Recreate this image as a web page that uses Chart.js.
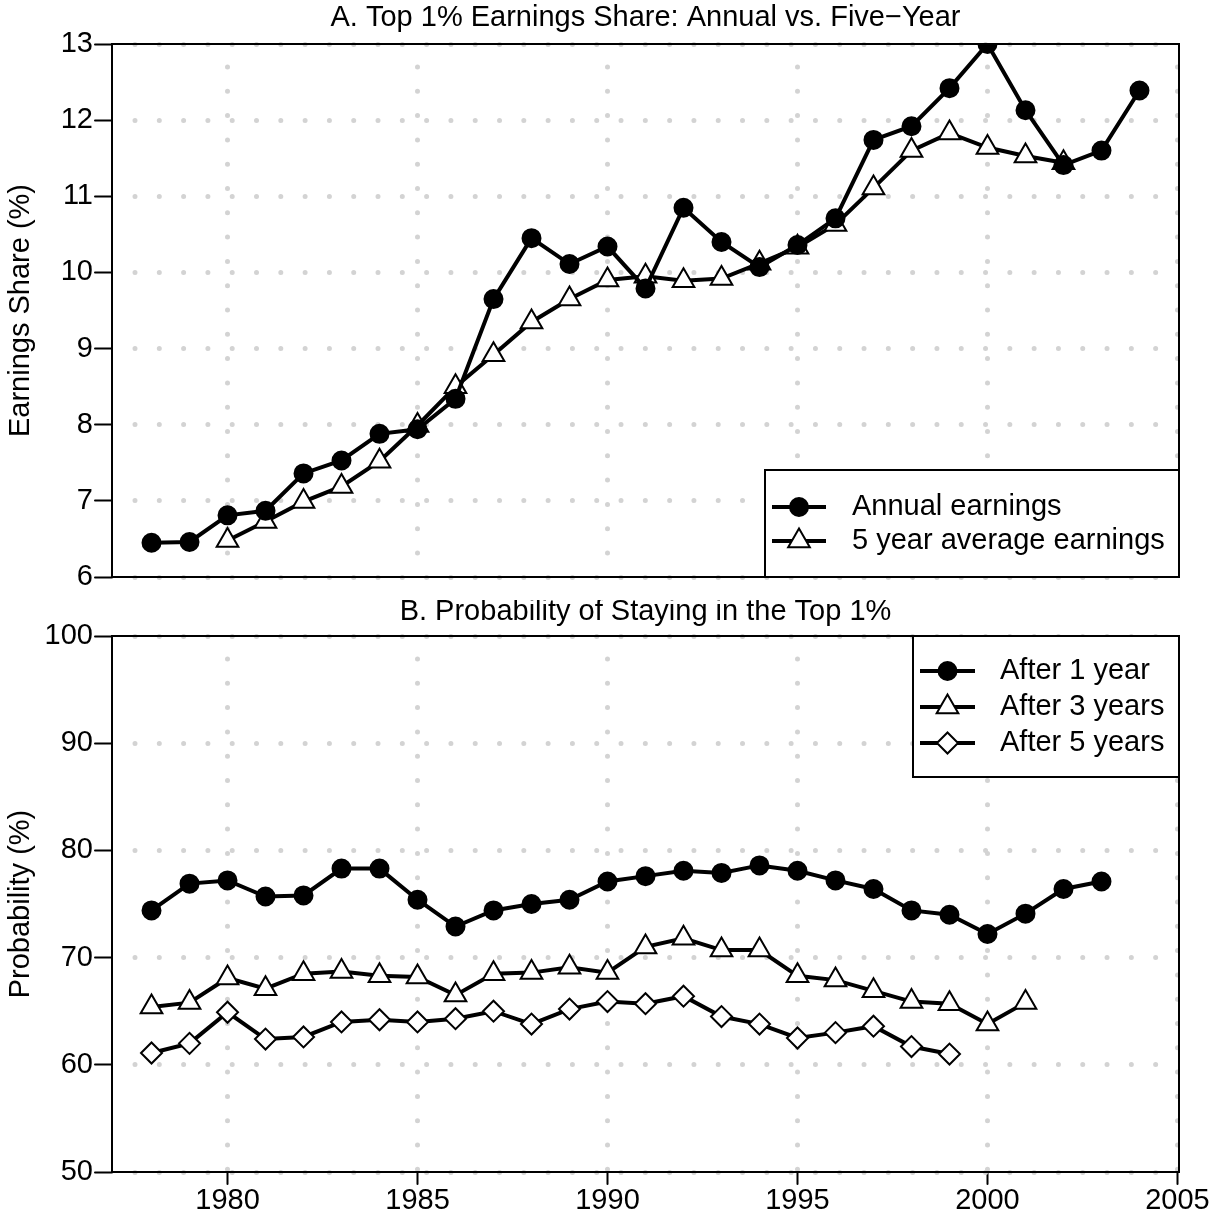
<!DOCTYPE html>
<html>
<head>
<meta charset="utf-8">
<script src="https://cdn.jsdelivr.net/npm/chart.js@4.4.1/dist/chart.umd.min.js"></script>
<style>
html, body { margin: 0; padding: 0; background: #fff; }
#wrap { position: relative; width: 1222px; height: 1222px; }
canvas { position: absolute; left: 0; }
</style>
</head>
<body>
<div id="wrap">
<canvas id="topChart" width="1222" height="600" style="top:0;width:1222px;height:600px"></canvas>
<canvas id="botChart" width="1222" height="622" style="top:600px;width:1222px;height:622px"></canvas>
</div>
<script>
// panel A: top 1% earnings share
var shareYears = [1978, 1979, 1980, 1981, 1982, 1983, 1984, 1985, 1986, 1987, 1988, 1989, 1990, 1991,
                  1992, 1993, 1994, 1995, 1996, 1997, 1998, 1999, 2000, 2001, 2002, 2003, 2004];
var annualShare = [6.45, 6.46, 6.81, 6.87, 7.36, 7.53, 7.88, 7.94, 8.34, 9.65, 10.45, 10.11, 10.34, 9.79,
                   10.85, 10.40, 10.07, 10.36, 10.71, 11.74, 11.92, 12.42, 13.00, 12.13, 11.41, 11.60, 12.39];
var avgYears = [1980, 1981, 1982, 1983, 1984, 1985, 1986, 1987, 1988, 1989, 1990, 1991,
                1992, 1993, 1994, 1995, 1996, 1997, 1998, 1999, 2000, 2001, 2002];
var avgShare = [6.48, 6.73, 6.99, 7.19, 7.52, 7.99, 8.50, 8.92, 9.35, 9.65, 9.90, 9.95,
                9.89, 9.92, 10.12, 10.33, 10.63, 11.11, 11.60, 11.83, 11.64, 11.53, 11.44];
var shareTicks = [6, 7, 8, 9, 10, 11, 12, 13];

// panel B: probability of staying in the top 1%
var stayYears = [1978, 1979, 1980, 1981, 1982, 1983, 1984, 1985, 1986, 1987, 1988, 1989, 1990,
                 1991, 1992, 1993, 1994, 1995, 1996, 1997, 1998, 1999, 2000, 2001, 2002, 2003];
var after1 = [74.4, 76.9, 77.2, 75.7, 75.8, 78.3, 78.3, 75.4, 72.9, 74.4, 75.0, 75.4, 77.1,
              77.6, 78.1, 77.9, 78.6, 78.1, 77.2, 76.4, 74.4, 74.0, 72.2, 74.1, 76.4, 77.1];
var after3 = [65.4, 65.8, 68.1, 67.1, 68.5, 68.7, 68.3, 68.2, 66.5, 68.5, 68.6, 69.1, 68.6,
              71.0, 71.8, 70.7, 70.7, 68.3, 67.9, 66.9, 65.9, 65.7, 63.8, 65.8];
var after5 = [61.1, 62.0, 64.9, 62.4, 62.6, 64.0, 64.2, 64.0, 64.3, 65.0, 63.8, 65.2, 65.9,
              65.7, 66.4, 64.5, 63.8, 62.5, 63.0, 63.6, 61.7, 61.0];
var probTicks = [50, 60, 70, 80, 90, 100];

var yearTicks = [1980, 1985, 1990, 1995, 2000, 2005];

var FONT = '"Liberation Sans", Arial, Helvetica, sans-serif';
var FS = 29;
Chart.defaults.font.family = FONT;
Chart.defaults.font.size = FS;
Chart.defaults.color = '#000';

var AREA_LEFT = 112;
var DOT = [0.001, 24.3];
var R = { circle: 9, triangle: 12.5, rectRot: 10.5 };

function toPoints(xs, ys) {
    return ys.map(function (v, i) { return { x: xs[i], y: v }; });
}

function series(label, xs, ys, style, fill) {
    return {
        label: label,
        data: toPoints(xs, ys),
        borderColor: '#000',
        borderWidth: 4,
        pointStyle: style,
        pointRadius: R[style],
        pointHoverRadius: R[style],
        pointBackgroundColor: fill,
        pointBorderColor: '#000',
        pointBorderWidth: 2,
        tension: 0,
        clip: 0
    };
}

function marker(ctx, style, fill, x, y) {
    var r = R[style];
    ctx.beginPath();
    if (style == 'circle') {
        ctx.arc(x, y, r, 0, Math.PI * 2);
    } else if (style == 'triangle') {
        ctx.moveTo(x, y - r);
        ctx.lineTo(x + r * Math.sin(Math.PI * 2 / 3), y + r / 2);
        ctx.lineTo(x - r * Math.sin(Math.PI * 2 / 3), y + r / 2);
    } else {
        ctx.moveTo(x - r, y);
        ctx.lineTo(x, y - r);
        ctx.lineTo(x + r, y);
        ctx.lineTo(x, y + r);
    }
    ctx.closePath();
    ctx.fillStyle = fill;
    ctx.fill();
    ctx.lineWidth = 2;
    ctx.strokeStyle = '#000';
    ctx.stroke();
}

var framePlugin = {
    id: 'frame',
    beforeDraw: function (chart) {
        chart.ctx.lineCap = 'round';
    },
    afterDraw: function (chart, args, opts) {
        var ctx = chart.ctx, a = chart.chartArea, L = opts.legend;
        ctx.save();
        ctx.lineCap = 'butt';
        ctx.setLineDash([]);

        // legend box
        ctx.fillStyle = '#fff';
        ctx.fillRect(L.left, L.top, a.right - L.left, L.bottom - L.top);
        ctx.strokeStyle = '#000';
        ctx.lineWidth = 2;
        ctx.strokeRect(L.left, L.top, a.right - L.left, L.bottom - L.top);
        L.rows.forEach(function (row, i) {
            var y = L.firstY + i * L.step;
            ctx.beginPath();
            ctx.moveTo(L.lineX1, y);
            ctx.lineTo(L.lineX2, y);
            ctx.lineWidth = 4;
            ctx.strokeStyle = '#000';
            ctx.stroke();
            marker(ctx, row.style, row.fill, (L.lineX1 + L.lineX2) / 2, y);
            ctx.fillStyle = '#000';
            ctx.font = FS + 'px ' + FONT;
            ctx.textAlign = 'left';
            ctx.textBaseline = 'middle';
            ctx.fillText(row.label, L.textX, y);
        });

        // plot box
        ctx.strokeStyle = '#000';
        ctx.lineWidth = 2;
        ctx.strokeRect(a.left, a.top, a.right - a.left, a.bottom - a.top);

        // title
        ctx.fillStyle = '#000';
        ctx.font = FS + 'px ' + FONT;
        ctx.textAlign = 'center';
        ctx.textBaseline = 'middle';
        ctx.fillText(opts.title, (a.left + a.right) / 2, opts.titleY);
        ctx.restore();
    }
};

function yScale(min, max, ticks, title) {
    return {
        type: 'linear', min: min, max: max,
        afterBuildTicks: function (s) { s.ticks = ticks.map(function (v) { return { value: v }; }); },
        ticks: { padding: 2, font: { size: FS }, callback: function (v) { return String(v); } },
        grid: { color: '#d3d3d3', lineWidth: 5, tickLength: 17, tickColor: '#000', tickWidth: 2,
                tickBorderDash: [], borderDash: DOT, borderDashOffset: 1.3 },
        border: { display: false, dash: DOT, dashOffset: 1.3 },
        title: { display: true, text: title, font: { size: FS }, padding: { top: 4, bottom: 0 } },
        afterFit: function (s) { s.width = AREA_LEFT; }
    };
}

function xScale(showTicks, height) {
    return {
        type: 'linear', min: 1976.96, max: 2005.04,
        afterBuildTicks: function (s) { s.ticks = yearTicks.map(function (v) { return { value: v }; }); },
        ticks: { display: showTicks, padding: 0, maxRotation: 0, autoSkip: false,
                 font: { size: FS }, callback: function (v) { return String(v); } },
        grid: { color: '#d3d3d3', lineWidth: 5, drawTicks: showTicks, tickLength: 12, tickColor: '#000',
                tickWidth: 2, tickBorderDash: [], borderDash: DOT, borderDashOffset: 1.3 },
        border: { display: false, dash: DOT, dashOffset: 1.3 },
        afterFit: function (s) { s.height = height; }
    };
}

new Chart(document.getElementById('topChart'), {
    type: 'line',
    data: {
        datasets: [
            series('Annual earnings', shareYears, annualShare, 'circle', '#000'),
            series('5 year average earnings', avgYears, avgShare, 'triangle', '#fff')
        ]
    },
    options: {
        responsive: false,
        animation: false,
        events: [],
        layout: { padding: { left: 0, right: 43, top: 44, bottom: 23 } },
        scales: {
            x: xScale(false, 0),
            y: yScale(6, 13, shareTicks, 'Earnings Share (%)')
        },
        plugins: {
            legend: { display: false },
            tooltip: { enabled: false },
            frame: {
                title: 'A. Top 1% Earnings Share: Annual vs. Five\u2212Year',
                titleY: 18,
                legend: {
                    left: 765, top: 470, bottom: 577,
                    firstY: 507, step: 34, lineX1: 772, lineX2: 826, textX: 852,
                    rows: [
                        { label: 'Annual earnings', style: 'circle', fill: '#000' },
                        { label: '5 year average earnings', style: 'triangle', fill: '#fff' }
                    ]
                }
            }
        }
    },
    plugins: [framePlugin]
});

new Chart(document.getElementById('botChart'), {
    type: 'line',
    data: {
        datasets: [
            series('After 1 year', stayYears, after1, 'circle', '#000'),
            series('After 3 years', stayYears, after3, 'triangle', '#fff'),
            series('After 5 years', stayYears, after5, 'rectRot', '#fff')
        ]
    },
    options: {
        responsive: false,
        animation: false,
        events: [],
        layout: { padding: { left: 0, right: 43, top: 36, bottom: 0 } },
        scales: {
            x: xScale(true, 50),
            y: yScale(50, 100, probTicks, 'Probability (%)')
        },
        plugins: {
            legend: { display: false },
            tooltip: { enabled: false },
            frame: {
                title: 'B. Probability of Staying in the Top 1%',
                titleY: 12,
                legend: {
                    left: 913, top: 36, bottom: 177,
                    firstY: 71, step: 36, lineX1: 920, lineX2: 975, textX: 1000,
                    rows: [
                        { label: 'After 1 year', style: 'circle', fill: '#000' },
                        { label: 'After 3 years', style: 'triangle', fill: '#fff' },
                        { label: 'After 5 years', style: 'rectRot', fill: '#fff' }
                    ]
                }
            }
        }
    },
    plugins: [framePlugin]
});
</script>
</body>
</html>
